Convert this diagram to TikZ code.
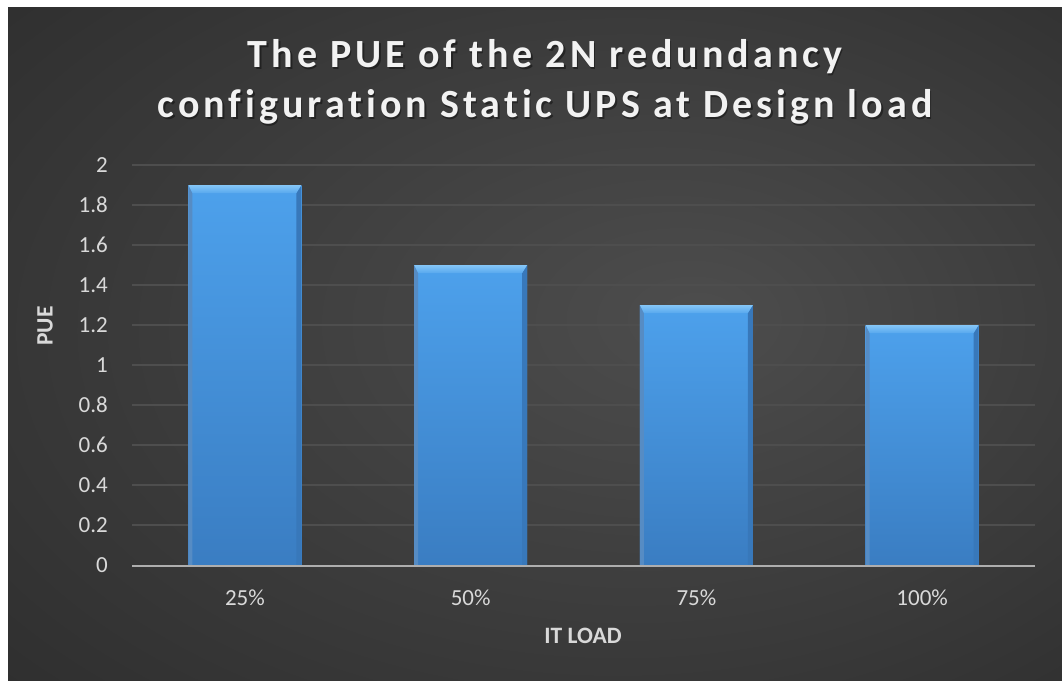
\documentclass[tikz,border=0pt]{standalone}
\usepackage{fontspec}
\setmainfont{Carlito}
\newfontfamily\titlefont[LetterSpace=10,Ligatures=NoCommon]{Carlito}
\definecolor{bgin}{HTML}{4D4D4D}
\definecolor{bgout}{HTML}{252525}
\definecolor{gridc}{HTML}{4E4E4E}
\definecolor{tickc}{HTML}{D9D9D9}
\definecolor{bartop}{HTML}{4DA1EC}
\definecolor{barbot}{HTML}{3A7DC2}
\definecolor{barbevel}{HTML}{85C6F7}
\definecolor{barside}{HTML}{3878BA}
\pgfdeclareradialshading{chartbg}{\pgfpoint{8bp}{2bp}}{color(0bp)=(bgin); color(50bp)=(bgout)}
\tikzset{
  ticklabel/.style={text=tickc, font=\fontsize{23}{26}\selectfont, inner sep=0pt},
  axistitle/.style={text=tickc, font=\fontsize{23.5}{26}\selectfont\bfseries, inner sep=0pt},
  titletext/.style={font=\fontsize{40}{50}\selectfont\titlefont\bfseries, align=center, inner sep=0pt}
}
\begin{document}
\begin{tikzpicture}[x=1pt,y=-1pt]
      \useasboundingbox (0,0) rectangle (1062,680);
      \fill[white] (0,0) rectangle (1062,680);
      \shade[shading=chartbg] (8,7) rectangle (1062,680);

      \foreach \t [count=\k from 0] in {0,0.2,0.4,0.6,0.8,1,1.2,1.4,1.6,1.8,2}{
        \ifnum\k>0 \draw[gridc, line width=1.3pt] (132,565-40*\k) -- (1035,565-40*\k); \fi
        \node[ticklabel, anchor=east] (y\k) at (108,565-40*\k) {\t};
      }

      \foreach \v/\lab [count=\i] in {1.9/25\%,1.5/50\%,1.3/75\%,1.2/100\%}{
        \pgfmathsetmacro\cx{132+225.75*(\i-0.5)}
        \pgfmathsetmacro\tp{565-200*\v}
        \shade[top color=bartop, bottom color=barbot] (\cx-56.5,\tp) rectangle (\cx+56.5,565);
        \fill[barside] (\cx+56.5,\tp) -- (\cx+51.5,\tp+8) -- (\cx+51.5,565) -- (\cx+56.5,565) -- cycle;
        \fill[barside!85!white] (\cx-56.5,\tp) -- (\cx-52.5,\tp+8) -- (\cx-52.5,565) -- (\cx-56.5,565) -- cycle;
        \shade[top color=barbevel, bottom color=bartop!80!barbevel] (\cx-56.5,\tp) -- (\cx+56.5,\tp) -- (\cx+51.5,\tp+8) -- (\cx-52.5,\tp+8) -- cycle;
        \node[ticklabel] (x\i) at (\cx,598) {\lab};
      }

      \draw[tickc!80!black, line width=2pt] (132,566) -- (1035,566);

      \node[axistitle] (xlab) at (583,636) {IT LOAD};
      \node[axistitle, rotate=90] (ylab) at (45,326) {PUE};

      \node[titletext, text=black, opacity=0.4] (titleshadow) at (546.5,83.5) {The PUE of the 2N redundancy\\configuration Static UPS at Design load};
      \node[titletext, text=white!95!black] (title) at (545,82) {The PUE of the 2N redundancy\\configuration Static UPS at Design load};
\end{tikzpicture}
\end{document}
